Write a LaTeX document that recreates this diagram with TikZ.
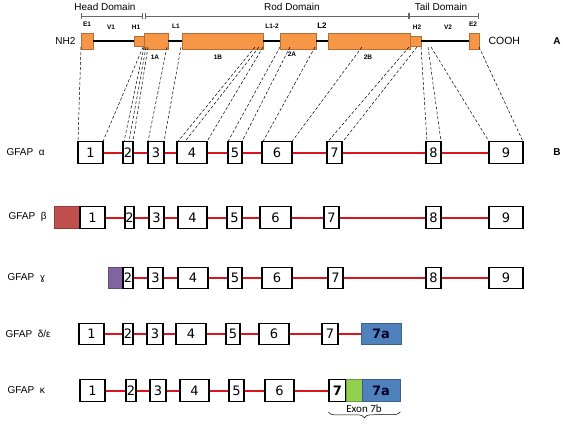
\documentclass[tikz,border=0pt]{standalone}
\usepackage{fontspec}
\setmainfont{Liberation Sans}
\newfontfamily\exonfont{DejaVu Sans}
\newfontfamily\bracefont{Carlito}
\usetikzlibrary{decorations.pathreplacing}
\definecolor{domorange}{RGB}{247,150,70}
\definecolor{domedge}{RGB}{182,109,49}
\definecolor{betared}{RGB}{192,80,77}
\definecolor{gammapurple}{RGB}{128,100,162}
\definecolor{exblue}{RGB}{79,129,189}
\definecolor{exgreen}{RGB}{146,208,80}
\definecolor{intronred}{RGB}{220,20,30}
\tikzset{
 exon/.style={draw, line width=1.3pt, fill=white, inner sep=0pt, minimum height=21.5,
   font=\exonfont\fontsize{13}{13}\selectfont},
 fillexon/.style={draw=#1!75!black, fill=#1, line width=0.8pt, inner sep=0pt, minimum height=21.5,
   font=\exonfont\bfseries\fontsize{13}{13}\selectfont, text=black!85!blue},
 intron/.style={draw=intronred, line width=2pt},
 pdomain/.style={draw=domedge, fill=domorange, line width=0.8pt, inner sep=0pt, minimum height=16},
 backbone/.style={line width=2.6pt},
 ptag/.style={font=\bfseries\fontsize{6.5}{6.5}\selectfont},
 rowname/.style={anchor=west, font=\fontsize{10}{10}\selectfont},
 domainbar/.style={draw=black!60, line width=0.6pt, |-|},
 mapline/.style={dash pattern=on 3pt off 2pt, line width=0.5pt}
}
\begin{document}
\begin{tikzpicture}[x=1pt,y=-1pt]
\useasboundingbox (0,0) rectangle (563,424);

% protein
\foreach \name/\xa/\xb/\h in {E1/81/93/16,H1/134/144/10,P1A/144/168/16,P1B/182/263/16,
                             P2A/280/316/16,P2B/328/410/16,H2/410/421/10,E2/469/479/16}
  \node[pdomain, minimum width={\xb-\xa}, minimum height=\h] (\name) at ({(\xa+\xb)/2},41) {};
\foreach \i/\j in {E1/H1,P1A/P1B,P1B/P2A,P2A/P2B,H2/E2}
  \draw[backbone] (\i) -- (\j);
\node[anchor=east, font=\fontsize{10}{10}\selectfont] (nh2) at (79,41) {NH2};
\node[anchor=west, font=\fontsize{10.5}{10.5}\selectfont] (cooh) at (485,41) {COOH};
\node[font=\bfseries\fontsize{10}{10}\selectfont] (tagA) at (557,41) {A};
\node[font=\bfseries\fontsize{10}{10}\selectfont] (tagB) at (557,152) {B};
\foreach \t/\x/\y in {E1/87/24,V1/111/27,H1/136/27,L1/176/26,L1-2/272/26,H2/417/27,V2/448/27,E2/473/24,
                      1A/155/57,1B/218/57,2A/292/54,2B/368/57}
  \node[ptag] (lab-\t) at (\x,\y) {\t};
\node[ptag, font=\bfseries\fontsize{8}{8}\selectfont] (lab-L2) at (322,26) {L2};

% domains
\foreach \t/\x/\xa/\xb in {Head Domain/105/81/143,Rod Domain/292/145/409,Tail Domain/441/409/479}{
  \node[font=\fontsize{10}{10}\selectfont] (\t) at (\x,7) {\t};
  \draw[domainbar] (\xa,16) -- (\xb,16);
}

% GFAP alpha
\node[rowname] (alpha) at (3,152) {GFAP\ \ α};
\foreach \n/\xa/\xb in {1/78/103,2/123/133,3/148/164,4/177/207,5/228/242,6/262/292,7/327/342,8/426/441,9/489/523}
  \node[exon, minimum width={\xb-\xa}] (a\n) at ({(\xa+\xb)/2},152.5) {\n};
\foreach \i/\j in {1/2,2/3,3/4,4/5,5/6,6/7,7/8,8/9}
  \draw[intron] (a\i) -- (a\j);

% protein -> exon boundaries
\foreach \k/\xt/\xb in {1/81/78,2/143/103,3/144/124,4/146/129,5/148/133,6/167/148,7/181/164,8/255/178,
                        9/259/185,10/263/207,11/280/228,12/290/242,13/315/263,14/362/292,15/409/328,
                        16/417/343,17/421/427,18/428/441,19/431/489,20/479/523}{
  \coordinate (top\k) at (\xt,47);
  \coordinate (bot\k) at (\xb,141.5);
  \draw[mapline] (top\k) -- (bot\k);
}

% GFAP beta
\node[rowname] (beta) at (5,217) {GFAP\ \ β};
\node[fillexon=betared, minimum width=25] (bx) at (66.5,217.5) {};
\foreach \n/\xa/\xb in {1/80/105,2/125/134,3/149/164,4/178/207,5/227/242,6/260/291,7/324/339,8/426/441,9/489/523}
  \node[exon, minimum width={\xb-\xa}] (b\n) at ({(\xa+\xb)/2},217.5) {\n};
\foreach \i/\j in {1/2,2/3,3/4,4/5,5/6,6/7,7/8,8/9}
  \draw[intron] (b\i) -- (b\j);

% GFAP gamma
\node[rowname] (gamma) at (4,278) {GFAP\ \ {\exonfont\fontsize{9}{9}\selectfont ɣ}};
\node[fillexon=gammapurple, minimum width=15] (cx) at (115.5,278) {};
\foreach \n/\xa/\xb in {2/123/133,3/148/163,4/178/208,5/228/242,6/262/292,7/328/343,8/426/441,9/489/523}
  \node[exon, minimum width={\xb-\xa}] (c\n) at ({(\xa+\xb)/2},278) {\n};
\foreach \i/\j in {2/3,3/4,4/5,5/6,6/7,7/8,8/9}
  \draw[intron] (c\i) -- (c\j);

% GFAP delta/epsilon
\node[rowname] (delta) at (2,334) {GFAP\ \ δ/ε};
\foreach \n/\xa/\xb in {1/79/104,2/123/133,3/147/163,4/176/206,5/226/240,6/259/289,7/322/338}
  \node[exon, minimum width={\xb-\xa}] (d\n) at ({(\xa+\xb)/2},334) {\n};
\node[fillexon=exblue, minimum width=40] (d7a) at (381,334) {7a};
\foreach \i/\j in {1/2,2/3,3/4,4/5,5/6,6/7,7/7a}
  \draw[intron] (d\i) -- (d\j);

% GFAP kappa
\node[rowname] (kappa) at (4,390) {GFAP\ \ κ};
\foreach \n/\xa/\xb in {1/80/105,2/126/136,3/150/166,4/180/209,5/229/244,6/265/294}
  \node[exon, minimum width={\xb-\xa}] (e\n) at ({(\xa+\xb)/2},390.5) {\n};
\node[exon, minimum width=17, font=\exonfont\bfseries\fontsize{13}{13}\selectfont] (e7) at (337.5,390.5) {7};
\node[fillexon=exgreen, minimum width=16] (e7b) at (354,390.5) {};
\node[fillexon=exblue, minimum width=38] (e7a) at (381,390.5) {7a};
\foreach \i/\j in {1/2,2/3,3/4,4/5,5/6,6/7}
  \draw[intron] (e\i) -- (e\j);
\draw[decorate, decoration={brace, mirror, amplitude=6pt}, line width=0.5pt]
  ([yshift=-10pt]e7.south west) coordinate (br1) -- ([yshift=-10pt]e7a.south east) coordinate (br2);
\node[font=\bracefont\fontsize{11}{11}\selectfont] (exon7b) at (364,408.5) {Exon 7b};
\end{tikzpicture}
\end{document}
